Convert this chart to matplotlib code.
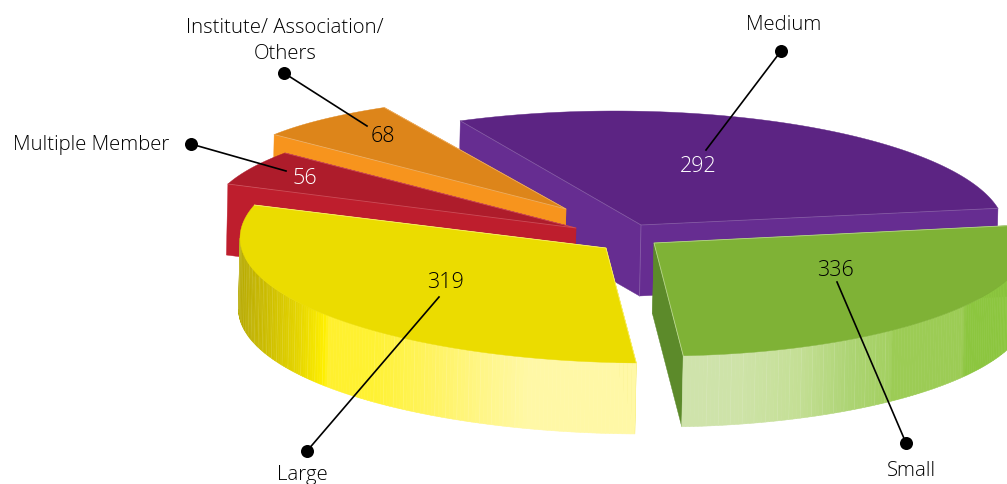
import numpy as np
import matplotlib
matplotlib.use("Agg")
import matplotlib.pyplot as plt
from matplotlib.collections import PolyCollection, LineCollection
from matplotlib.colors import to_rgb

# ---- data ----
categories = ["Medium", "Institute/ Association/\nOthers", "Multiple Member", "Large", "Small"]
values = [292, 68, 56, 319, 336]

# ---- layout: one projected ellipse per exploded wedge ----
# apex, ellipse centre, radii, first arc angle, sweep scale from perspective
GEOM = {
    "Medium": dict(apex=(641, 225), c=(615, 231), r=(390, 120), start=10.9, stretch=1.044),
    "Institute/ Association/\nOthers": dict(apex=(566, 209), c=(580, 173), r=(350, 79), start=124.0, stretch=1.177),
    "Multiple Member": dict(apex=(576, 228), c=(560, 216.4), r=(350, 102.6), start=141.8, stretch=1.052),
    "Large": dict(apex=(606, 248), c=(647, 238), r=(407, 125), start=164.7, stretch=0.968),
    "Small": dict(apex=(654, 243), c=(660, 240), r=(370, 116), start=-86.4, stretch=0.832),
}
STYLE = {
    "Medium": dict(top="#5C2483", wall="#662D91", seam="#8F68AD"),
    "Institute/ Association/\nOthers": dict(top="#DD851A", wall="#F7941D", seam="#F2BE80"),
    "Multiple Member": dict(top="#AE1C2B", wall="#BE1E2D", seam="#D9606A"),
    "Large": dict(top="#EBDC00", wall="#EBDC00", seam="#FFF9A0"),
    "Small": dict(top="#7FB236", wall="#5C8A2A", seam="#D5E8B5"),
}
DEPTH = (-1.5, 71)
OUTER_WALL = {
    "Large": dict(xs=[238, 262, 300, 326, 329, 375, 430, 480, 530, 640],
                  cols=["#B5A800", "#C8B900", "#E6D600", "#FFF000", "#FFF02E", "#FFF233",
                        "#FFF35F", "#FFF685", "#FFF8A6", "#FFF8A6"],
                  seam_x=(238, 326, 375, 530)),
    "Small": dict(xs=[682, 740, 800, 850, 892, 893, 964, 966, 1010],
                  cols=["#CFE3AC", "#CEE3A8", "#C4DF95", "#ADD474", "#A3D060", "#9CCC55",
                        "#9CCC55", "#8CC63F", "#8CC63F"],
                  seam_x=(705, 892, 964, 966)),
}
WALL_RANGE = {"Large": (180, None), "Small": (None, 7.5)}
LABELS = {
    "Medium": dict(name=(784, 25), val=(698, 167), vc="white", dot=(781, 51), end=(706, 150)),
    "Institute/ Association/\nOthers": dict(name=(285, 41), val=(383, 136), vc="black", dot=(284, 73), end=(367, 126)),
    "Multiple Member": dict(name=(91, 145), val=(305, 179), vc="white", dot=(191, 144), end=(286, 171)),
    "Large": dict(name=(302, 475), val=(445, 283), vc="black", dot=(307, 451), end=(439, 297)),
    "Small": dict(name=(912, 471), val=(835, 271), vc="black", dot=(906, 443), end=(837, 282)),
}

plt.rcParams["font.family"] = ["Open Sans", "DejaVu Sans"]
fig = plt.figure(figsize=(10.07, 4.84), dpi=100)
ax = fig.add_axes([0, 0, 1, 1])
ax.set_xlim(0, 1007)
ax.set_ylim(484, 0)
ax.axis("off")

total = sum(values)


def arc_pts(g, t0, t1, n=160):
    t = np.radians(np.linspace(t0, t1, n))
    return np.column_stack([g["c"][0] + g["r"][0] * np.cos(t), g["c"][1] - g["r"][1] * np.sin(t)])


def draw_wedge(name, value, z):
    g, s = GEOM[name], STYLE[name]
    t0 = g["start"]
    t1 = t0 + g["stretch"] * 360 * value / total
    arc = arc_pts(g, t0, t1)
    apex = np.array(g["apex"], float)
    d = np.array(DEPTH)
    e0, e1 = arc[0], arc[-1]
    # flat cut faces
    for e in (e0, e1):
        ax.fill(*np.array([apex, e, e + d, apex + d]).T, color=s["wall"], lw=0.3, zorder=z)
    # outer wall, drawn as narrow vertical strips coloured along x
    if name in OUTER_WALL:
        w = OUTER_WALL[name]
        lo, hi = WALL_RANGE[name]
        a0 = t0 if lo is None else lo
        a1 = t1 if hi is None else hi
        strip = arc_pts(g, a0, a1, 150)
        rgb = np.array([to_rgb(c) for c in w["cols"]])
        sx = w["seam_x"]
        polys, cols, seams = [], [], []
        for i in range(len(strip) - 1):
            p, q = strip[i], strip[i + 1]
            polys.append([p, q, q + d, p + d])
            xm = (p[0] + q[0]) / 2
            cols.append([np.interp(xm, w["xs"], rgb[:, k]) for k in range(3)])
            if i % 3 == 0 and (sx[0] <= xm <= sx[1] or sx[2] <= xm <= sx[3]):
                seams.append([p, p + d])
        ax.add_collection(PolyCollection(polys, facecolors=cols, edgecolors=cols, linewidths=0.4, zorder=z))
        ax.add_collection(LineCollection(seams, colors="white", alpha=0.14, linewidths=0.5, zorder=z))
    # top face
    ax.fill(*np.vstack([apex, arc]).T, color=s["top"], lw=0.3, zorder=z + 0.2)
    # light seams along the top edges
    ax.plot(*np.array([e0, apex, e1]).T, color=s["seam"], lw=0.6, alpha=0.7, zorder=z + 0.3)
    if name == "Medium":
        ax.plot(*np.array([apex, apex + d]).T, color=s["seam"], lw=0.6, alpha=0.7, zorder=z + 0.3)


for i, name in enumerate(categories):
    draw_wedge(name, values[i], i + 1)

for name, value in zip(categories, values):
    lb = LABELS[name]
    ax.text(*lb["name"], name, ha="center", va="center", fontsize=14.7, color="black",
            fontweight="light", linespacing=1.38, zorder=20)
    ax.text(*lb["val"], str(value), ha="center", va="center", fontsize=15.5, color=lb["vc"],
            fontweight="light", zorder=20)
    ax.plot([lb["dot"][0], lb["end"][0]], [lb["dot"][1], lb["end"][1]], color="black", lw=1.2, zorder=18)
    ax.scatter(*lb["dot"], s=88, color="black", zorder=19, linewidths=0)

fig.savefig("out.png", dpi=100)
